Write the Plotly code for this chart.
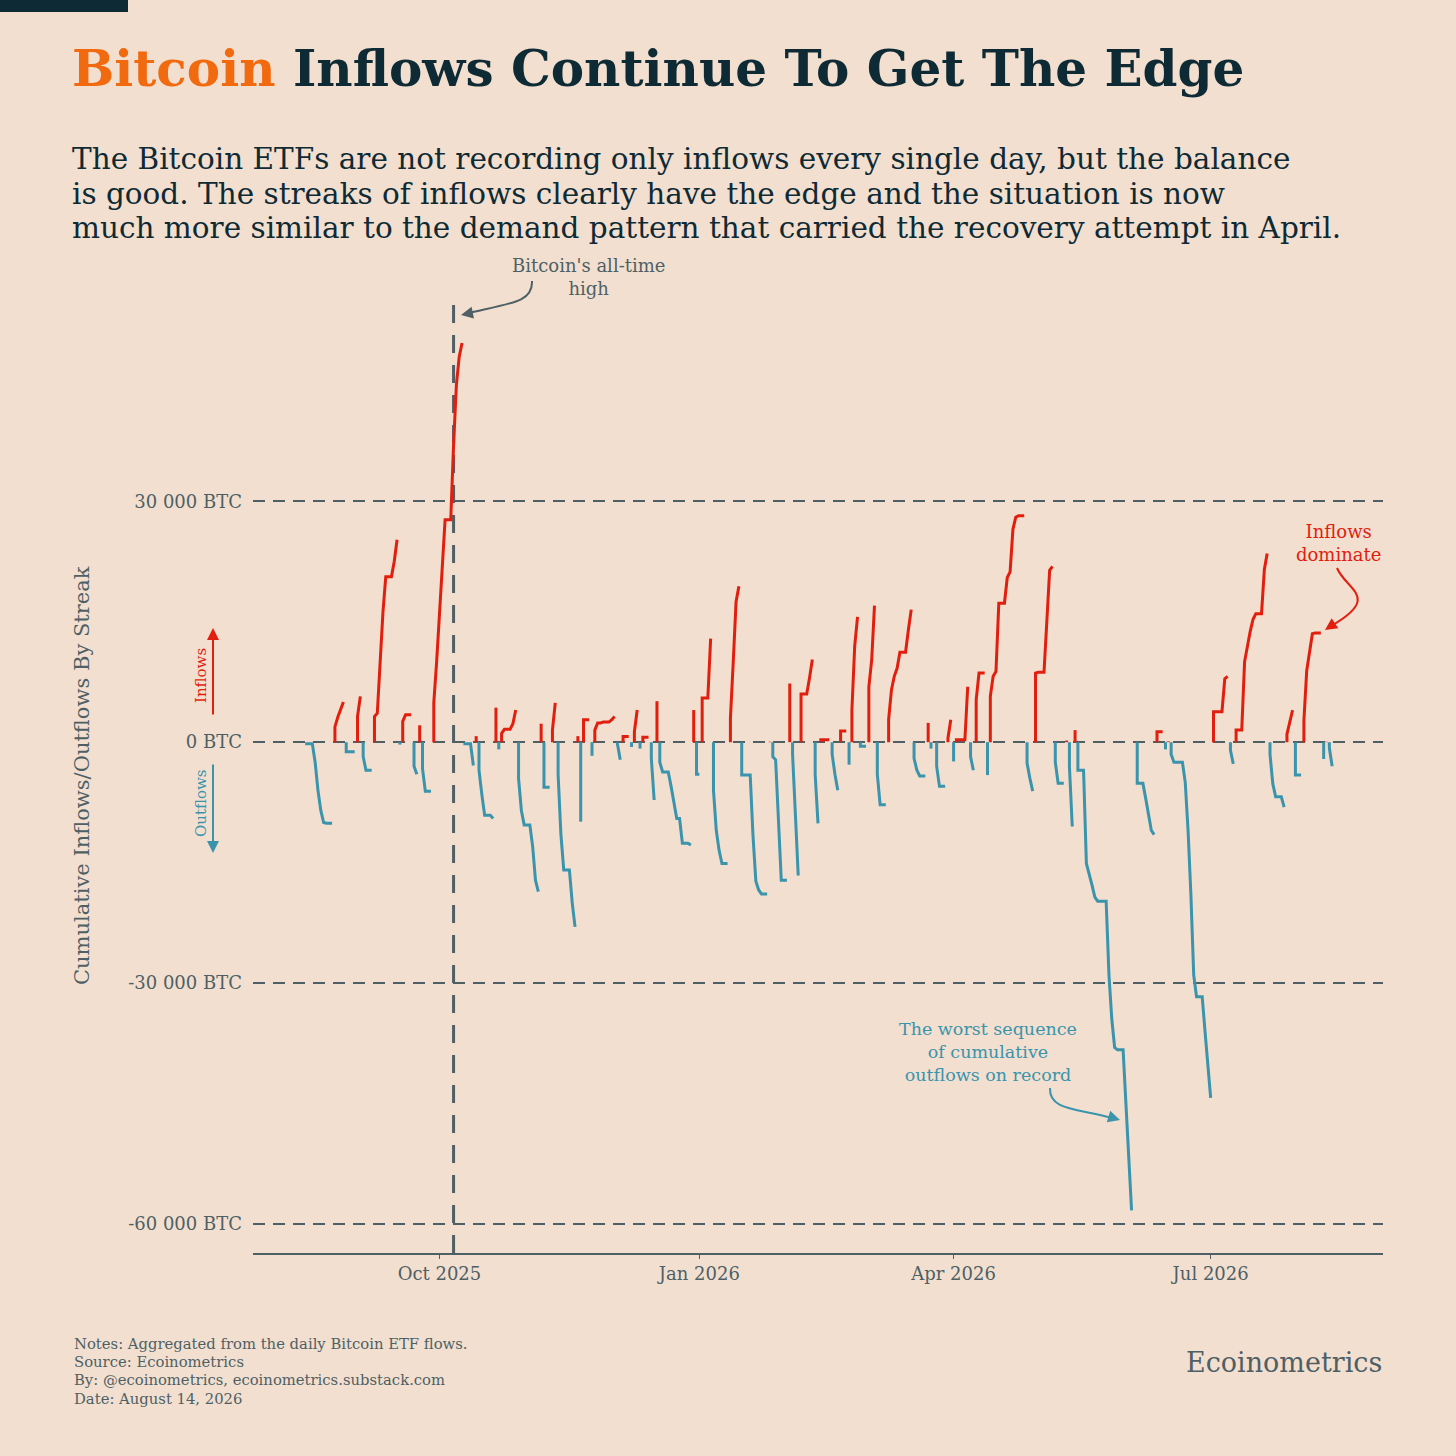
import pandas as pd
import plotly.graph_objects as go

# ---------------- data ----------------
market_holidays = ["2025-09-01", "2025-11-27", "2025-12-25", "2026-01-01", "2026-01-19",
                   "2026-02-16", "2026-04-03", "2026-05-25", "2026-06-19", "2026-07-03"]

# first trading day of each streak
streak_start = [
    "2025-08-15", "2025-08-25", "2025-08-29", "2025-09-02", "2025-09-04", "2025-09-08",
    "2025-09-17", "2025-09-18", "2025-09-22", "2025-09-24", "2025-09-25", "2025-09-29",
    "2025-10-10", "2025-10-14", "2025-10-15", "2025-10-21", "2025-10-22", "2025-10-23",
    "2025-10-29", "2025-11-06", "2025-11-07", "2025-11-10", "2025-11-12", "2025-11-19",
    "2025-11-20", "2025-11-21", "2025-11-24", "2025-11-25", "2025-12-03", "2025-12-05",
    "2025-12-08", "2025-12-09", "2025-12-11", "2025-12-12", "2025-12-15", "2025-12-17",
    "2025-12-18", "2025-12-30", "2025-12-31", "2026-01-02", "2026-01-06", "2026-01-12",
    "2026-01-16", "2026-01-26", "2026-01-27", "2026-02-02", "2026-02-03", "2026-02-06",
    "2026-02-11", "2026-02-13", "2026-02-17", "2026-02-20", "2026-02-23", "2026-02-24",
    "2026-02-27", "2026-03-02", "2026-03-05", "2026-03-09", "2026-03-18", "2026-03-23",
    "2026-03-24", "2026-03-25", "2026-03-26", "2026-03-30", "2026-04-01", "2026-04-02",
    "2026-04-07", "2026-04-09", "2026-04-13", "2026-04-14", "2026-04-27", "2026-04-30",
    "2026-05-07", "2026-05-11", "2026-05-12", "2026-05-14", "2026-05-15", "2026-06-04",
    "2026-06-05", "2026-06-12", "2026-06-15", "2026-06-16", "2026-06-17", "2026-07-02",
    "2026-07-08", "2026-07-10", "2026-07-22", "2026-07-28", "2026-07-31", "2026-08-03",
    "2026-08-10", "2026-08-11", "2026-08-12",
]

# cumulative flow within each streak, per trading day (thousand BTC)
streak_cum_kbtc = [
    [-0.2, -2.5, -6.0, -8.5, -10.0, -10.1], [1.9, 3.1, 4.0, 5.0], [-1.2], [3.2, 5.7],
    [-1.8, -3.5], [3.2, 3.6, 9.8, 16.2, 20.6, 22.5, 25.2], [-0.3], [2.6, 3.4],
    [-3.0, -4.0], [2.1], [-3.3, -6.1], [4.9, 10.0, 15.5, 21.5, 27.7, 37.0, 44.5, 48.0, 49.7],
    [-0.2, -2.9], [0.75], [-3.5, -6.5, -9.1, -9.5], [4.3], [-0.9], [1.1, 1.6, 2.3, 4.0],
    [-4.5, -8.5, -10.3, -13.0, -17.2, -18.6], [2.3], [-5.6], [1.5, 4.9],
    [-4.0, -11.5, -15.9, -20.0, -23.0], [0.75], [-9.9], [2.8], [-1.7],
    [1.5, 2.4, 2.5, 2.8, 3.2], [-0.2, -2.2], [0.7], [-0.6], [1.3, 4.0], [-0.8], [0.6],
    [-2.0, -7.2], [5.1], [-2.5, -3.7, -5.5, -7.8, -9.5, -12.6, -12.8], [4.0], [-4.0],
    [5.5, 12.9], [-6.0, -11.0, -13.5, -15.1], [3.0, 10.0, 17.5, 19.4],
    [-4.1, -11.7, -17.3, -18.4, -18.9], [0.05], [-1.8, -2.2, -10.0, -17.2], [7.3],
    [-1.5, -9.0, -16.6], [6.0, 8.0, 10.3], [-4.0, -10.1], [0.3], [-1.5, -4.0, -6.0], [1.4],
    [-2.8], [4.0, 12.0, 15.6], [-0.5], [6.9, 10.2, 17.0], [-4.0, -7.8],
    [2.8, 6.5, 8.2, 9.2, 11.2, 14.0, 16.5], [-2.0, -3.5, -4.2], [2.4], [-0.8], [0.05],
    [-3.0, -5.5], [0.5, 2.8], [-2.4], [0.3, 6.9], [-1.8, -3.5], [5.3, 8.6], [-4.1],
    [5.7, 8.2, 8.8, 17.3, 20.5, 21.2, 26.5, 28.0, 28.2], [-2.6, -4.5, -6.1],
    [8.6, 8.7, 15.0, 21.4, 21.9], [-2.5, -5.1], [0.2], [-3.0, -10.5], [1.5],
    [-3.5, -15.1, -16.3, -17.8, -19.3, -19.8, -29.0, -34.5, -38.0, -38.3, -45.0, -51.6, -58.3],
    [0.05], [-5.1, -7.0, -9.0, -11.0, -11.5], [1.3], [-0.9], [0.1],
    [-1.5, -2.5, -5.0, -11.0, -19.0, -29.0, -31.7, -36.0, -40.0, -44.3],
    [3.8, 7.9, 8.2], [-1.0, -2.7], [1.5, 10.0, 12.0, 13.8, 15.3, 16.0, 21.5, 23.5],
    [-1.5, -5.2, -6.8, -8.1], [1.0, 2.5, 4.0], [-4.1], [2.7, 8.9, 11.4, 13.5, 13.6],
    [-2.1], [0.05], [-0.7, -3.0],
]

ath_date = "2025-10-06"
x_tick_vals = ["2025-10-01", "2026-01-01", "2026-04-01", "2026-07-01"]
x_tick_text = ["Oct 2025", "Jan 2026", "Apr 2026", "Jul 2026"]
y_tick_vals = [-60000, -30000, 0, 30000]
y_tick_text = ["-60 000 BTC", "-30 000 BTC", "0 BTC", "30 000 BTC"]

# ---------------- styles ----------------
BG = "#F2DFCF"
DARK = "#0E2A35"
ORANGE = "#F26A10"
GREY = "#4E5F66"
RED = "#E21E0E"
TEAL = "#3A94AC"
FONT = "DejaVu Serif"

W, H = 1456, 1456
PL, PR, PT, PB = 253, 1383, 298, 1253


def px(x):
    return (x - PL) / (PR - PL)


def py(y):
    return (PB - y) / (PB - PT)


# ---------------- build streak lines ----------------
tdays = pd.bdate_range("2025-08-01", "2026-09-30", freq="C", holidays=market_holidays)
tlist = list(tdays)

series = {"in": ([], []), "out": ([], [])}
for i, (start, cum) in enumerate(zip(streak_start, streak_cum_kbtc)):
    s = pd.Timestamp(start)
    k = tlist.index(s)
    days = tlist[k:k + len(cum)]
    vals = {d: v * 1000 for d, v in zip(days, cum)}
    if i + 1 < len(streak_start):
        end = pd.Timestamp(streak_start[i + 1]) - pd.Timedelta(days=1)
    else:
        end = days[-1]
    xs, ys = [s], [0]
    cur = 0
    for d in pd.date_range(s, end, freq="D"):
        if d in vals:
            cur = vals[d]
        xs.append(d)
        ys.append(cur)
    key = "in" if cum[-1] > 0 else "out"
    series[key][0].extend(xs + [None])
    series[key][1].extend(ys + [None])

fig = go.Figure()
fig.add_trace(go.Scatter(x=series["out"][0], y=series["out"][1], mode="lines",
                         line=dict(color=TEAL, width=3), connectgaps=False,
                         hoverinfo="skip", showlegend=False))
fig.add_trace(go.Scatter(x=series["in"][0], y=series["in"][1], mode="lines",
                         line=dict(color=RED, width=3), connectgaps=False,
                         hoverinfo="skip", showlegend=False))

# ATH vertical dashed line
fig.add_shape(type="line", xref="x", yref="paper", x0=ath_date, x1=ath_date, y0=0, y1=1,
              line=dict(color=GREY, width=3, dash="18px,12px"), layer="below")

# top-left dark bar
fig.add_shape(type="rect", xref="paper", yref="paper", x0=px(0), x1=px(128), y0=py(0), y1=py(12),
              fillcolor=DARK, line=dict(width=0))

ann = []
# title
ann.append(dict(x=px(70), y=py(68), xref="paper", yref="paper", xanchor="left", yanchor="middle",
                showarrow=False,
                text=f"<b><span style='color:{ORANGE}'>Bitcoin</span> Inflows Continue To Get The Edge</b>",
                font=dict(family=FONT, size=50, color=DARK)))
sub = ["The Bitcoin ETFs are not recording only inflows every single day, but the balance",
       "is good. The streaks of inflows clearly have the edge and the situation is now",
       "much more similar to the demand pattern that carried the recovery attempt in April."]
for j, line in enumerate(sub):
    ann.append(dict(x=px(70), y=py(159 + 34.5 * j), xref="paper", yref="paper", xanchor="left",
                    yanchor="middle", showarrow=False, text=line,
                    font=dict(family=FONT, size=29.5, color=DARK)))

# y axis title
ann.append(dict(x=px(82), y=py(776), xref="paper", yref="paper", xanchor="center", yanchor="middle",
                textangle=-90, showarrow=False, text="Cumulative Inflows/Outflows By Streak",
                font=dict(family=FONT, size=21, color=GREY)))
# Inflows / Outflows side labels and arrows
ann.append(dict(x=px(201), y=py(676), xref="paper", yref="paper", xanchor="center", yanchor="middle",
                textangle=-90, showarrow=False, text="Inflows",
                font=dict(family=FONT, size=15, color=RED)))
ann.append(dict(x=px(201), y=py(803), xref="paper", yref="paper", xanchor="center", yanchor="middle",
                textangle=-90, showarrow=False, text="Outflows",
                font=dict(family=FONT, size=15, color=TEAL)))
ann.append(dict(x=px(213), y=py(628), xref="paper", yref="paper", ax=0, ay=88, text="",
                showarrow=True, arrowhead=2, arrowsize=1.2, arrowwidth=2, arrowcolor=RED, standoff=0))
ann.append(dict(x=px(213), y=py(853), xref="paper", yref="paper", ax=0, ay=-90, text="",
                showarrow=True, arrowhead=2, arrowsize=1.2, arrowwidth=2, arrowcolor=TEAL, standoff=0))

# ATH annotation
ann.append(dict(x=px(588), y=py(277), xref="paper", yref="paper", xanchor="center", yanchor="middle",
                showarrow=False, text="Bitcoin's all-time<br>high",
                font=dict(family=FONT, size=18, color=GREY)))
fig.add_shape(type="path", xref="paper", yref="paper",
              path=f"M {px(532)},{py(281)} C {px(533)},{py(302)} {px(512)},{py(303)} {px(468)},{py(313)}",
              line=dict(color=GREY, width=2))
ann.append(dict(x=px(461), y=py(315), xref="paper", yref="paper", ax=10, ay=-2, text="",
                showarrow=True, arrowhead=2, arrowsize=1.2, arrowwidth=2, arrowcolor=GREY, standoff=0))

# Inflows dominate annotation
ann.append(dict(x=px(1338), y=py(543), xref="paper", yref="paper", xanchor="center", yanchor="middle",
                showarrow=False, text="Inflows<br>dominate",
                font=dict(family=FONT, size=18, color=RED)))
fig.add_shape(type="path", xref="paper", yref="paper",
              path=f"M {px(1337)},{py(568)} C {px(1346)},{py(590)} {px(1382)},{py(597)} {px(1331)},{py(626)}",
              line=dict(color=RED, width=2))
ann.append(dict(x=px(1325), y=py(630), xref="paper", yref="paper", ax=9, ay=-6, text="",
                showarrow=True, arrowhead=2, arrowsize=1.2, arrowwidth=2, arrowcolor=RED, standoff=0))

# worst sequence annotation
ann.append(dict(x=px(988), y=py(1052), xref="paper", yref="paper", xanchor="center", yanchor="middle",
                showarrow=False, text="The worst sequence<br>of cumulative<br>outflows on record",
                font=dict(family=FONT, size=17.5, color=TEAL)))
fig.add_shape(type="path", xref="paper", yref="paper",
              path=f"M {px(1050)},{py(1088)} C {px(1049)},{py(1110)} {px(1075)},{py(1108)} {px(1112)},{py(1118)}",
              line=dict(color=TEAL, width=2))
ann.append(dict(x=px(1120), y=py(1120), xref="paper", yref="paper", ax=-10, ay=-3, text="",
                showarrow=True, arrowhead=2, arrowsize=1.2, arrowwidth=2, arrowcolor=TEAL, standoff=0))

# footer
foot = ["Notes: Aggregated from the daily Bitcoin ETF flows.", "Source: Ecoinometrics",
        "By: @ecoinometrics, ecoinometrics.substack.com", "Date: August 14, 2026"]
for j, line in enumerate(foot):
    ann.append(dict(x=px(72), y=py(1343 + 18.4 * j), xref="paper", yref="paper", xanchor="left",
                    yanchor="middle", showarrow=False, text=line,
                    font=dict(family=FONT, size=14.8, color=GREY)))
ann.append(dict(x=px(1384), y=py(1362), xref="paper", yref="paper", xanchor="right", yanchor="middle",
                showarrow=False, text="Ecoinometrics", font=dict(family=FONT, size=27, color=GREY)))

fig.update_layout(
    width=W, height=H,
    margin=dict(l=PL, r=W - PR, t=PT, b=H - PB, pad=0),
    paper_bgcolor=BG, plot_bgcolor=BG,
    annotations=ann,
    showlegend=False,
    xaxis=dict(type="date", range=["2025-07-27", "2026-08-31"], tickvals=x_tick_vals,
               ticktext=x_tick_text, showgrid=False, zeroline=False, showline=True,
               linecolor=GREY, linewidth=1.5, ticks="outside", ticklen=4, tickwidth=1,
               tickcolor=GREY, tickfont=dict(family=FONT, size=18, color=GREY)),
    yaxis=dict(range=[-63600, 55300], tickvals=y_tick_vals, ticktext=y_tick_text,
               showgrid=True, gridcolor=GREY, gridwidth=1.6, griddash="12px,8px",
               zeroline=False, showline=False, ticks="", ticklabelstandoff=10,
               tickfont=dict(family=FONT, size=18, color=GREY)),
)

fig.write_html("out.html", config={"displayModeBar": False},
               post_script="document.body.style.margin='0';document.body.style.background='" + BG + "';")
